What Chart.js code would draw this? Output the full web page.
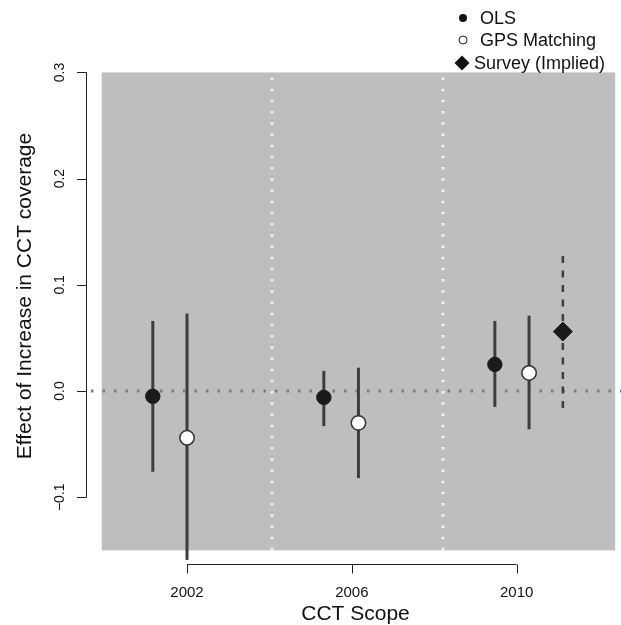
<!DOCTYPE html>
<html>
<head>
<meta charset="utf-8">
<script src="https://cdn.jsdelivr.net/npm/chart.js@4/dist/chart.umd.min.js"></script>
<style>
  html, body { margin: 0; padding: 0; background: #fff; overflow: hidden; }
  #wrap { width: 621px; height: 625px; position: relative; }
  canvas { display: block; }
</style>
</head>
<body>
<div id="wrap"><canvas id="effectChart"></canvas></div>
<script>
// ticks on the x axis (the three CCT scope years)
const years = [2002, 2006, 2010];
const yTicks = [-0.1, 0.0, 0.1, 0.2, 0.3];
const yTickLabels = ["\u22120.1", "0.0", "0.1", "0.2", "0.3"];

// OLS estimates (x is the dodged position in year units)
const olsX = [2001.17, 2005.32, 2009.47];
const olsEst = [-0.005, -0.006, 0.025];
const olsLo = [-0.076, -0.033, -0.015];
const olsHi = [0.066, 0.019, 0.066];

// GPS matching estimates
const gpsX = [2002.0, 2006.16, 2010.30];
const gpsEst = [-0.044, -0.030, 0.017];
const gpsLo = [-0.159, -0.082, -0.036];
const gpsHi = [0.073, 0.022, 0.071];

// survey (implied) estimate, 2010 only
const surveyX = [2011.12];
const surveyEst = [0.056];
const surveyLo = [-0.016];
const surveyHi = [0.129];

// shaded panel and reference lines
const panelX = [1999.93, 2012.39];
const panelY = [-0.15, 0.3];
const dividers = [2004.07, 2008.22];
const zeroLine = 0;

const FONT = '"Liberation Sans", Arial, Helvetica, sans-serif';
const BAR_COLOR = "#3d3d3d";

function errorBars(xs, lo, hi, dashed) {
  return xs.map((x, i) => ({
    type: "scatter",
    showLine: true,
    data: [{ x, y: lo[i] }, { x, y: hi[i] }],
    borderColor: BAR_COLOR,
    borderWidth: dashed ? 2.5 : 3,
    borderDash: dashed ? [7, 7.5] : [],
    borderCapStyle: "butt",
    pointRadius: 0,
    order: 2
  }));
}

function points(xs, ys) {
  return xs.map((x, i) => ({ x, y: ys[i] }));
}

// grey panel, dotted dividers and the zero line, under the data
const backdrop = {
  id: "backdrop",
  beforeDatasetsDraw(chart) {
    const { ctx, chartArea } = chart;
    const xs = chart.scales.x, ys = chart.scales.y;
    const l = xs.getPixelForValue(panelX[0]), r = xs.getPixelForValue(panelX[1]);
    const t = ys.getPixelForValue(panelY[1]), b = ys.getPixelForValue(panelY[0]);
    ctx.save();
    ctx.fillStyle = "#bdbec0";
    ctx.fillRect(l, t, r - l, b - t);

    ctx.strokeStyle = "#f2f2f2";
    ctx.lineWidth = 3;
    ctx.setLineDash([2.5, 8.7]);
    dividers.forEach(v => {
      const px = Math.round(xs.getPixelForValue(v));
      ctx.beginPath();
      ctx.moveTo(px, t + 5);
      ctx.lineTo(px, b);
      ctx.stroke();
    });

    ctx.strokeStyle = "#7c7c7c";
    ctx.setLineDash([2.5, 9]);
    const py = Math.round(ys.getPixelForValue(zeroLine));
    ctx.beginPath();
    ctx.moveTo(chartArea.left + 1, py);
    ctx.lineTo(chartArea.right, py);
    ctx.stroke();
    ctx.restore();
  }
};

// R style axes, titles and legend
const decorations = {
  id: "decorations",
  afterDraw(chart) {
    const { ctx, chartArea } = chart;
    const xs = chart.scales.x, ys = chart.scales.y;
    ctx.save();
    ctx.strokeStyle = "#222";
    ctx.fillStyle = "#111";
    ctx.lineWidth = 1;
    ctx.setLineDash([]);

    // y axis
    const ax = chartArea.left - 3.5;
    ctx.beginPath();
    ctx.moveTo(ax, ys.getPixelForValue(yTicks[0]));
    ctx.lineTo(ax, ys.getPixelForValue(yTicks[yTicks.length - 1]));
    yTicks.forEach(v => {
      const py = Math.round(ys.getPixelForValue(v)) + 0.5;
      ctx.moveTo(ax, py);
      ctx.lineTo(ax - 9.5, py);
    });
    ctx.stroke();
    ctx.font = "14px " + FONT;
    ctx.textAlign = "center";
    ctx.textBaseline = "alphabetic";
    yTicks.forEach((v, i) => {
      ctx.save();
      ctx.translate(63.5, ys.getPixelForValue(v));
      ctx.rotate(-Math.PI / 2);
      ctx.fillText(yTickLabels[i], 0, 0);
      ctx.restore();
    });

    // x axis
    const ay = chartArea.bottom - 0.5;
    ctx.beginPath();
    ctx.moveTo(xs.getPixelForValue(years[0]), ay);
    ctx.lineTo(xs.getPixelForValue(years[years.length - 1]), ay);
    years.forEach(v => {
      const px = Math.round(xs.getPixelForValue(v)) + 0.5;
      ctx.moveTo(px, ay);
      ctx.lineTo(px, ay + 9);
    });
    ctx.stroke();
    ctx.font = "15px " + FONT;
    years.forEach(v => {
      ctx.fillText(String(v), xs.getPixelForValue(v), 597);
    });

    // axis titles
    ctx.font = "21px " + FONT;
    ctx.fillText("CCT Scope", (chartArea.left + chartArea.right) / 2, 620);
    ctx.save();
    ctx.translate(31, 296);
    ctx.rotate(-Math.PI / 2);
    ctx.fillText("Effect of Increase in CCT coverage", 0, 0);
    ctx.restore();

    // legend
    ctx.font = "18px " + FONT;
    ctx.textAlign = "left";
    ctx.textBaseline = "middle";
    const lx = 463;
    const textX = [480, 480, 474];
    const rows = [18, 40, 63];
    ctx.fillStyle = "#111";
    ctx.beginPath();
    ctx.arc(lx, rows[0], 4, 0, Math.PI * 2);
    ctx.fill();
    ctx.beginPath();
    ctx.arc(lx, rows[1], 4, 0, Math.PI * 2);
    ctx.strokeStyle = "#222";
    ctx.lineWidth = 1;
    ctx.stroke();
    ctx.beginPath();
    ctx.moveTo(lx - 1, rows[2] - 7.5);
    ctx.lineTo(lx + 6.5, rows[2]);
    ctx.lineTo(lx - 1, rows[2] + 7.5);
    ctx.lineTo(lx - 8.5, rows[2]);
    ctx.closePath();
    ctx.fill();
    const names = chart.data.datasets.filter(d => d.legendName).map(d => d.legendName);
    names.forEach((n, i) => ctx.fillText(n, textX[i], rows[i] + 1));
    ctx.restore();
  }
};

const datasets = [
  {
    legendName: "OLS",
    data: points(olsX, olsEst),
    pointStyle: "circle",
    pointRadius: 7.2,
    pointBackgroundColor: "#1b1b1b",
    pointBorderColor: "#1b1b1b",
    pointBorderWidth: 1,
    showLine: false,
    order: 0
  },
  {
    legendName: "GPS Matching",
    data: points(gpsX, gpsEst),
    pointStyle: "circle",
    pointRadius: 7.2,
    pointBackgroundColor: "#ffffff",
    pointBorderColor: "#333333",
    pointBorderWidth: 1.5,
    showLine: false,
    order: 0
  },
  {
    legendName: "Survey (Implied)",
    data: points(surveyX, surveyEst),
    pointStyle: "rectRot",
    pointRadius: 9.5,
    pointBackgroundColor: "#1b1b1b",
    pointBorderColor: "#1b1b1b",
    pointBorderWidth: 1,
    showLine: false,
    order: 0
  },
  ...errorBars(olsX, olsLo, olsHi, false),
  ...errorBars(gpsX, gpsLo, gpsHi, false),
  ...errorBars(surveyX, surveyLo, surveyHi, true)
];

new Chart(document.getElementById("effectChart"), {
  type: "scatter",
  data: { datasets },
  plugins: [backdrop, decorations],
  options: {
    responsive: true,
    maintainAspectRatio: false,
    animation: false,
    layout: { autoPadding: false, padding: { left: 90, right: 0, top: 53, bottom: 60 } },
    scales: {
      x: { type: "linear", display: false, min: 1999.646, max: 2012.531 },
      y: { type: "linear", display: false, min: -0.1638, max: 0.3183 }
    },
    plugins: {
      legend: { display: false },
      tooltip: { enabled: false }
    }
  }
});
</script>
</body>
</html>
